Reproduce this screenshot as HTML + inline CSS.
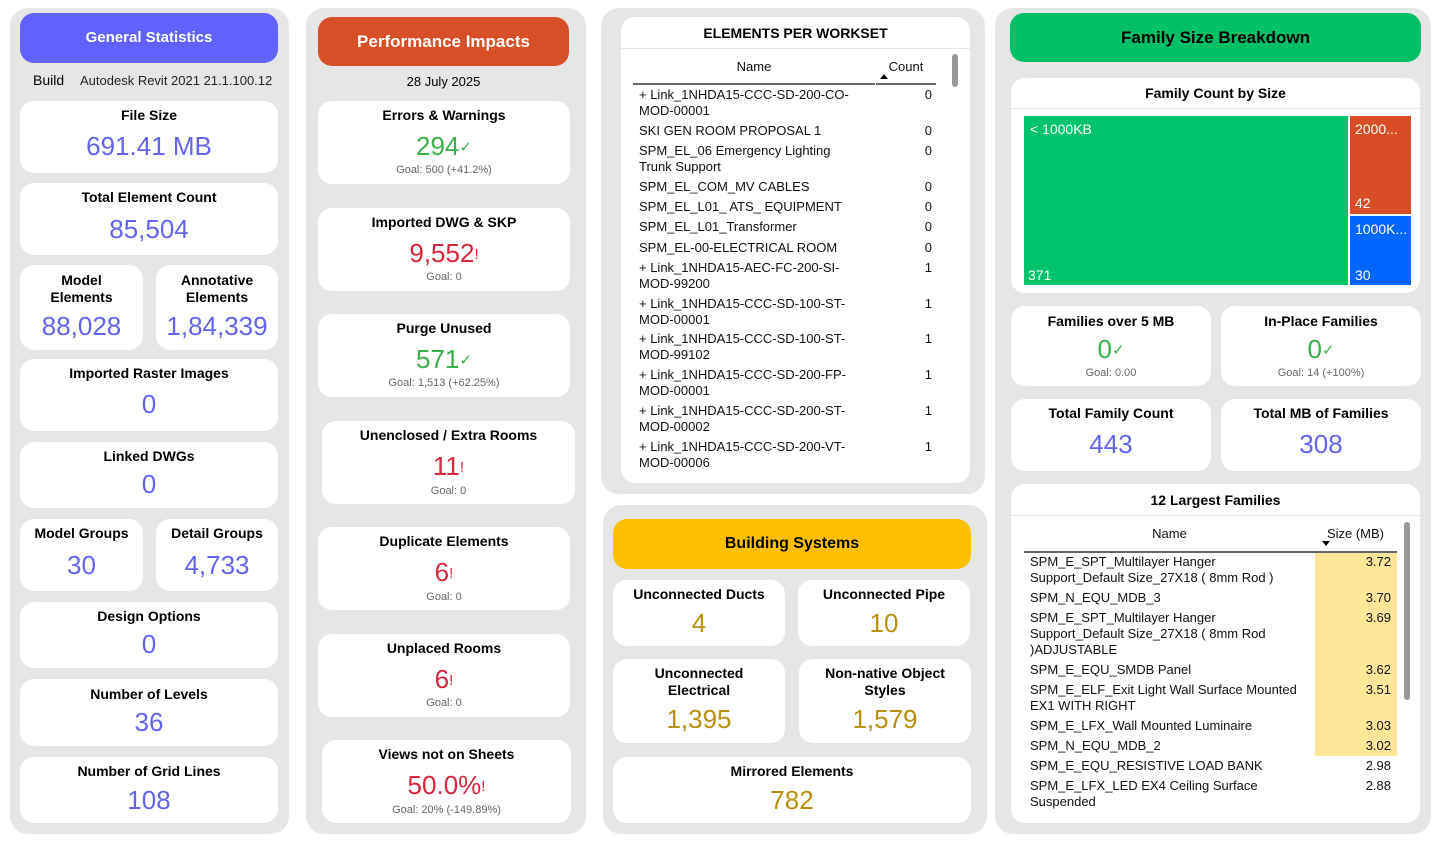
<!DOCTYPE html>
<html><head><meta charset="utf-8"><style>
*{margin:0;padding:0;box-sizing:border-box}
body{width:1443px;height:845px;background:#fff;position:relative;overflow:hidden;font-family:"Liberation Sans",sans-serif;color:#000}
div{position:absolute}
.p{background:#e6e6e6;border-radius:18px}
.c{background:#fff;border-radius:14px}
.h{border-radius:14px;text-align:center;font-weight:bold;font-size:16px;line-height:50px}
.t{text-align:center;font-weight:bold;font-size:14px;line-height:17px}
.v{text-align:center;font-size:26px;line-height:30px}
.g{text-align:center;font-size:11px;line-height:14px;color:#666}
.b{color:#6464ee}.gr{color:#3cb04b}.r{color:#d7263d}.y{color:#b8900e}
.s{font-size:15px;vertical-align:top;position:relative;top:2px}
.w{font-size:13px;line-height:16px;color:#111}
.n{text-align:right}
</style></head><body>

<!-- Column 1 -->
<div class="p" style="left:10px;top:8px;width:279px;height:826px"></div>
<div class="h" style="left:20px;top:13px;width:258px;height:50px;background:#6161ff;color:#fff;font-size:15px">General Statistics</div>
<div style="left:33px;top:72px;font-size:14px;line-height:16px">Build</div>
<div style="left:80px;top:73px;font-size:13px;line-height:16px;color:#222">Autodesk Revit 2021 21.1.100.12</div>

<div class="c" style="left:20px;top:101px;width:258px;height:72px"></div>
<div class="t" style="left:20px;top:107px;width:258px">File Size</div>
<div class="v b" style="left:20px;top:131px;width:258px">691.41 MB</div>

<div class="c" style="left:20px;top:183px;width:258px;height:72px"></div>
<div class="t" style="left:20px;top:189px;width:258px">Total Element Count</div>
<div class="v b" style="left:20px;top:214px;width:258px">85,504</div>

<div class="c" style="left:20px;top:265px;width:123px;height:85px"></div>
<div class="t" style="left:20px;top:272px;width:123px">Model<br>Elements</div>
<div class="v b" style="left:20px;top:311px;width:123px">88,028</div>
<div class="c" style="left:156px;top:265px;width:122px;height:85px"></div>
<div class="t" style="left:156px;top:272px;width:122px">Annotative<br>Elements</div>
<div class="v b" style="left:156px;top:311px;width:122px">1,84,339</div>

<div class="c" style="left:20px;top:359px;width:258px;height:72px"></div>
<div class="t" style="left:20px;top:365px;width:258px">Imported Raster Images</div>
<div class="v b" style="left:20px;top:389px;width:258px">0</div>

<div class="c" style="left:20px;top:442px;width:258px;height:66px"></div>
<div class="t" style="left:20px;top:448px;width:258px">Linked DWGs</div>
<div class="v b" style="left:20px;top:469px;width:258px">0</div>

<div class="c" style="left:20px;top:519px;width:123px;height:72px"></div>
<div class="t" style="left:20px;top:525px;width:123px">Model Groups</div>
<div class="v b" style="left:20px;top:550px;width:123px">30</div>
<div class="c" style="left:156px;top:519px;width:122px;height:72px"></div>
<div class="t" style="left:156px;top:525px;width:122px">Detail Groups</div>
<div class="v b" style="left:156px;top:550px;width:122px">4,733</div>

<div class="c" style="left:20px;top:602px;width:258px;height:66px"></div>
<div class="t" style="left:20px;top:608px;width:258px">Design Options</div>
<div class="v b" style="left:20px;top:629px;width:258px">0</div>

<div class="c" style="left:20px;top:679px;width:258px;height:67px"></div>
<div class="t" style="left:20px;top:686px;width:258px">Number of Levels</div>
<div class="v b" style="left:20px;top:707px;width:258px">36</div>

<div class="c" style="left:20px;top:757px;width:258px;height:66px"></div>
<div class="t" style="left:20px;top:763px;width:258px">Number of Grid Lines</div>
<div class="v b" style="left:20px;top:785px;width:258px">108</div>

<!-- Column 2 -->
<div class="p" style="left:306px;top:8px;width:280px;height:826px"></div>
<div class="h" style="left:318px;top:17px;width:251px;height:49px;background:#d64f27;color:#fff;font-size:17px">Performance Impacts</div>
<div style="left:318px;top:74px;width:251px;text-align:center;font-size:13px;line-height:16px">28 July 2025</div>

<div class="c" style="left:318px;top:101px;width:252px;height:83px"></div>
<div class="t" style="left:318px;top:107px;width:252px">Errors &amp; Warnings</div>
<div class="v gr" style="left:318px;top:131px;width:252px">294<span class="s">✓</span></div>
<div class="g" style="left:318px;top:163px;width:252px">Goal: 500 (+41.2%)</div>

<div class="c" style="left:318px;top:208px;width:252px;height:83px"></div>
<div class="t" style="left:318px;top:214px;width:252px">Imported DWG &amp; SKP</div>
<div class="v r" style="left:318px;top:238px;width:252px">9,552<span class="s">!</span></div>
<div class="g" style="left:318px;top:270px;width:252px">Goal: 0</div>

<div class="c" style="left:318px;top:314px;width:252px;height:83px"></div>
<div class="t" style="left:318px;top:320px;width:252px">Purge Unused</div>
<div class="v gr" style="left:318px;top:344px;width:252px">571<span class="s">✓</span></div>
<div class="g" style="left:318px;top:376px;width:252px">Goal: 1,513 (+62.25%)</div>

<div class="c" style="left:322px;top:421px;width:253px;height:83px"></div>
<div class="t" style="left:322px;top:427px;width:253px">Unenclosed / Extra Rooms</div>
<div class="v r" style="left:322px;top:451px;width:253px">11<span class="s">!</span></div>
<div class="g" style="left:322px;top:484px;width:253px">Goal: 0</div>

<div class="c" style="left:318px;top:527px;width:252px;height:83px"></div>
<div class="t" style="left:318px;top:533px;width:252px">Duplicate Elements</div>
<div class="v r" style="left:318px;top:557px;width:252px">6<span class="s">!</span></div>
<div class="g" style="left:318px;top:590px;width:252px">Goal: 0</div>

<div class="c" style="left:318px;top:634px;width:252px;height:83px"></div>
<div class="t" style="left:318px;top:640px;width:252px">Unplaced Rooms</div>
<div class="v r" style="left:318px;top:664px;width:252px">6<span class="s">!</span></div>
<div class="g" style="left:318px;top:696px;width:252px">Goal: 0</div>

<div class="c" style="left:322px;top:740px;width:249px;height:83px"></div>
<div class="t" style="left:322px;top:746px;width:249px">Views not on Sheets</div>
<div class="v r" style="left:322px;top:770px;width:249px">50.0%<span class="s">!</span></div>
<div class="g" style="left:322px;top:803px;width:249px">Goal: 20% (-149.89%)</div>

<!-- Column 3 top -->
<div class="p" style="left:601px;top:8px;width:384px;height:486px"></div>
<div class="c" style="left:621px;top:17px;width:349px;height:466px"></div>
<div class="t" style="left:621px;top:25px;width:349px">ELEMENTS PER WORKSET</div>
<div style="left:621px;top:48px;width:349px;height:1px;background:#e6e6e6"></div>
<div class="w" style="left:633px;top:59px;width:242px;text-align:center">Name</div>
<div class="w" style="left:876px;top:59px;width:60px;text-align:center">Count</div>
<div style="left:880px;top:74px;width:0;height:0;border-left:4px solid transparent;border-right:4px solid transparent;border-bottom:5px solid #000"></div>
<div style="left:633px;top:83px;width:242px;height:2px;background:#666"></div>
<div style="left:876px;top:83px;width:60px;height:2px;background:#666"></div>
<div style="left:952px;top:54px;width:6px;height:33px;background:#999;border-radius:3px"></div>

<div class="w" style="left:639px;top:87px;width:230px">+ Link_1NHDA15-CCC-SD-200-CO-<br>MOD-00001</div><div class="w n" style="left:880px;top:87px;width:52px">0</div>
<div class="w" style="left:639px;top:123px">SKI GEN ROOM PROPOSAL 1</div><div class="w n" style="left:880px;top:123px;width:52px">0</div>
<div class="w" style="left:639px;top:143px">SPM_EL_06 Emergency Lighting<br>Trunk Support</div><div class="w n" style="left:880px;top:143px;width:52px">0</div>
<div class="w" style="left:639px;top:179px">SPM_EL_COM_MV CABLES</div><div class="w n" style="left:880px;top:179px;width:52px">0</div>
<div class="w" style="left:639px;top:199px">SPM_EL_L01_ ATS_ EQUIPMENT</div><div class="w n" style="left:880px;top:199px;width:52px">0</div>
<div class="w" style="left:639px;top:219px">SPM_EL_L01_Transformer</div><div class="w n" style="left:880px;top:219px;width:52px">0</div>
<div class="w" style="left:639px;top:240px">SPM_EL-00-ELECTRICAL ROOM</div><div class="w n" style="left:880px;top:240px;width:52px">0</div>
<div class="w" style="left:639px;top:260px">+ Link_1NHDA15-AEC-FC-200-SI-<br>MOD-99200</div><div class="w n" style="left:880px;top:260px;width:52px">1</div>
<div class="w" style="left:639px;top:296px">+ Link_1NHDA15-CCC-SD-100-ST-<br>MOD-00001</div><div class="w n" style="left:880px;top:296px;width:52px">1</div>
<div class="w" style="left:639px;top:331px">+ Link_1NHDA15-CCC-SD-100-ST-<br>MOD-99102</div><div class="w n" style="left:880px;top:331px;width:52px">1</div>
<div class="w" style="left:639px;top:367px">+ Link_1NHDA15-CCC-SD-200-FP-<br>MOD-00001</div><div class="w n" style="left:880px;top:367px;width:52px">1</div>
<div class="w" style="left:639px;top:403px">+ Link_1NHDA15-CCC-SD-200-ST-<br>MOD-00002</div><div class="w n" style="left:880px;top:403px;width:52px">1</div>
<div class="w" style="left:639px;top:439px">+ Link_1NHDA15-CCC-SD-200-VT-<br>MOD-00006</div><div class="w n" style="left:880px;top:439px;width:52px">1</div>

<!-- Column 3 bottom -->
<div class="p" style="left:603px;top:505px;width:384px;height:329px"></div>
<div class="h" style="left:613px;top:519px;width:358px;height:50px;background:#ffc000;color:#000">Building Systems</div>
<div class="c" style="left:613px;top:580px;width:172px;height:66px"></div>
<div class="t" style="left:613px;top:586px;width:172px">Unconnected Ducts</div>
<div class="v y" style="left:613px;top:608px;width:172px">4</div>
<div class="c" style="left:798px;top:580px;width:172px;height:66px"></div>
<div class="t" style="left:798px;top:586px;width:172px">Unconnected Pipe</div>
<div class="v y" style="left:798px;top:608px;width:172px">10</div>
<div class="c" style="left:613px;top:659px;width:172px;height:84px"></div>
<div class="t" style="left:613px;top:665px;width:172px">Unconnected<br>Electrical</div>
<div class="v y" style="left:613px;top:704px;width:172px">1,395</div>
<div class="c" style="left:799px;top:659px;width:172px;height:84px"></div>
<div class="t" style="left:799px;top:665px;width:172px">Non-native Object<br>Styles</div>
<div class="v y" style="left:799px;top:704px;width:172px">1,579</div>
<div class="c" style="left:613px;top:757px;width:358px;height:66px"></div>
<div class="t" style="left:613px;top:763px;width:358px">Mirrored Elements</div>
<div class="v y" style="left:613px;top:785px;width:358px">782</div>

<!-- Column 4 -->
<div class="p" style="left:995px;top:8px;width:436px;height:826px"></div>
<div class="h" style="left:1010px;top:13px;width:411px;height:49px;background:#00c066;color:#000;font-size:17px">Family Size Breakdown</div>

<div class="c" style="left:1011px;top:78px;width:409px;height:215px"></div>
<div class="t" style="left:1011px;top:85px;width:409px">Family Count by Size</div>
<div style="left:1011px;top:108px;width:409px;height:1px;background:#e6e6e6"></div>
<div style="left:1024px;top:116px;width:324px;height:169px;background:#00c46c"></div>
<div style="left:1350px;top:116px;width:61px;height:98px;background:#d84d26"></div>
<div style="left:1350px;top:216px;width:61px;height:69px;background:#0066ff"></div>
<div style="left:1030px;top:121px;color:#fff;font-size:14px">&lt; 1000KB</div>
<div style="left:1028px;top:267px;color:#fff;font-size:14px">371</div>
<div style="left:1355px;top:121px;color:#fff;font-size:14px">2000...</div>
<div style="left:1355px;top:195px;color:#fff;font-size:14px">42</div>
<div style="left:1355px;top:221px;color:#fff;font-size:14px">1000K...</div>
<div style="left:1355px;top:267px;color:#fff;font-size:14px">30</div>

<div class="c" style="left:1011px;top:306px;width:200px;height:80px"></div>
<div class="t" style="left:1011px;top:313px;width:200px">Families over 5 MB</div>
<div class="v gr" style="left:1011px;top:334px;width:200px">0<span class="s">✓</span></div>
<div class="g" style="left:1011px;top:366px;width:200px">Goal: 0.00</div>
<div class="c" style="left:1221px;top:306px;width:200px;height:80px"></div>
<div class="t" style="left:1221px;top:313px;width:200px">In-Place Families</div>
<div class="v gr" style="left:1221px;top:334px;width:200px">0<span class="s">✓</span></div>
<div class="g" style="left:1221px;top:366px;width:200px">Goal: 14 (+100%)</div>

<div class="c" style="left:1011px;top:399px;width:200px;height:72px"></div>
<div class="t" style="left:1011px;top:405px;width:200px">Total Family Count</div>
<div class="v b" style="left:1011px;top:429px;width:200px">443</div>
<div class="c" style="left:1221px;top:399px;width:200px;height:72px"></div>
<div class="t" style="left:1221px;top:405px;width:200px">Total MB of Families</div>
<div class="v b" style="left:1221px;top:429px;width:200px">308</div>

<div class="c" style="left:1011px;top:484px;width:409px;height:339px"></div>
<div class="t" style="left:1011px;top:492px;width:409px">12 Largest Families</div>
<div style="left:1011px;top:515px;width:409px;height:1px;background:#e6e6e6"></div>
<div class="w" style="left:1024px;top:526px;width:291px;text-align:center">Name</div>
<div class="w" style="left:1316px;top:526px;width:80px;text-align:right;padding-right:12px">Size (MB)</div>
<div style="left:1322px;top:541px;width:0;height:0;border-left:4px solid transparent;border-right:4px solid transparent;border-top:5px solid #000"></div>
<div style="left:1024px;top:551px;width:291px;height:2px;background:#666"></div>
<div style="left:1315px;top:551px;width:82px;height:2px;background:#666"></div>
<div style="left:1315px;top:553px;width:82px;height:203px;background:#ffe699"></div>
<div style="left:1404px;top:522px;width:6px;height:178px;background:#999;border-radius:3px"></div>

<div class="w" style="left:1030px;top:554px">SPM_E_SPT_Multilayer Hanger<br>Support_Default Size_27X18 ( 8mm Rod )</div><div class="w n" style="left:1330px;top:554px;width:61px">3.72</div>
<div class="w" style="left:1030px;top:590px">SPM_N_EQU_MDB_3</div><div class="w n" style="left:1330px;top:590px;width:61px">3.70</div>
<div class="w" style="left:1030px;top:610px">SPM_E_SPT_Multilayer Hanger<br>Support_Default Size_27X18 ( 8mm Rod<br>)ADJUSTABLE</div><div class="w n" style="left:1330px;top:610px;width:61px">3.69</div>
<div class="w" style="left:1030px;top:662px">SPM_E_EQU_SMDB Panel</div><div class="w n" style="left:1330px;top:662px;width:61px">3.62</div>
<div class="w" style="left:1030px;top:682px">SPM_E_ELF_Exit Light Wall Surface Mounted<br>EX1 WITH RIGHT</div><div class="w n" style="left:1330px;top:682px;width:61px">3.51</div>
<div class="w" style="left:1030px;top:718px">SPM_E_LFX_Wall Mounted Luminaire</div><div class="w n" style="left:1330px;top:718px;width:61px">3.03</div>
<div class="w" style="left:1030px;top:738px">SPM_N_EQU_MDB_2</div><div class="w n" style="left:1330px;top:738px;width:61px">3.02</div>
<div class="w" style="left:1030px;top:758px">SPM_E_EQU_RESISTIVE LOAD BANK</div><div class="w n" style="left:1330px;top:758px;width:61px">2.98</div>
<div class="w" style="left:1030px;top:778px">SPM_E_LFX_LED EX4 Ceiling Surface<br>Suspended</div><div class="w n" style="left:1330px;top:778px;width:61px">2.88</div>

</body></html>
